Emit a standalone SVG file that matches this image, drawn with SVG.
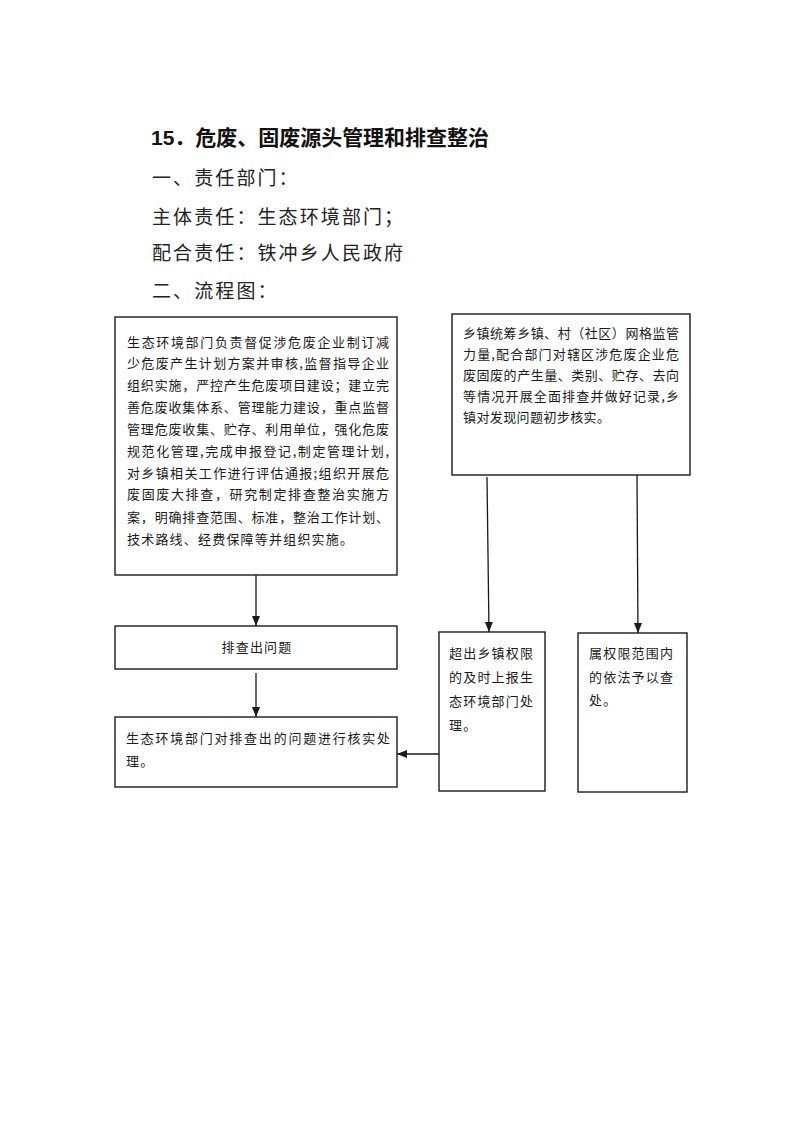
<svg xmlns="http://www.w3.org/2000/svg" width="793" height="1122" viewBox="0 0 793 1122">
<style>
.bg{fill:#ffffff}
.title{font-family:"Liberation Sans","Noto Sans CJK SC",sans-serif;font-size:21px;font-weight:bold;fill:#111}
.head{font-family:"Noto Sans CJK SC",sans-serif;font-size:19px;letter-spacing:2.1px;fill:#222}
.box{fill:#fff;stroke:#1a1a1a;stroke-width:1.4}
.t{font-family:"Noto Sans CJK SC",sans-serif;font-size:13px;fill:#1a1a1a}
.ls{letter-spacing:1.2px}
.edge{stroke:#1a1a1a;stroke-width:1.3;fill:none}
</style>
<defs>
<marker id="arr" markerUnits="userSpaceOnUse" markerWidth="10" markerHeight="10" viewBox="0 0 10 10" refX="10" refY="5" orient="auto">
<path d="M0,1 L10,5 L0,9 Z" fill="#1a1a1a"/>
</marker>
</defs>
<rect class="bg" x="0" y="0" width="793" height="1122"/>

<g id="header">
<text class="title" x="151" y="145" textLength="338" lengthAdjust="spacing">15．危废、固废源头管理和排查整治</text>
<text class="head" x="152" y="185">一、责任部门：</text>
<text class="head" x="152" y="224">主体责任：生态环境部门；</text>
<text class="head" x="152" y="260">配合责任：铁冲乡人民政府</text>
<text class="head" x="152" y="298">二、流程图：</text>
</g>

<g id="node-dept">
<rect class="box" x="115" y="317" width="282" height="258"/>
<text class="t" x="127" y="347" textLength="262" lengthAdjust="spacing">生态环境部门负责督促涉危废企业制订减</text>
<text class="t" x="127" y="368" textLength="262" lengthAdjust="spacing">少危废产生计划方案并审核,监督指导企业</text>
<text class="t" x="127" y="390" textLength="262" lengthAdjust="spacing">组织实施，严控产生危废项目建设；建立完</text>
<text class="t" x="127" y="412" textLength="262" lengthAdjust="spacing">善危废收集体系、管理能力建设，重点监督</text>
<text class="t" x="127" y="434" textLength="262" lengthAdjust="spacing">管理危废收集、贮存、利用单位，强化危废</text>
<text class="t" x="127" y="456" textLength="262" lengthAdjust="spacing">规范化管理,完成申报登记,制定管理计划,</text>
<text class="t" x="127" y="478" textLength="262" lengthAdjust="spacing">对乡镇相关工作进行评估通报;组织开展危</text>
<text class="t" x="127" y="499" textLength="262" lengthAdjust="spacing">废固废大排查，研究制定排查整治实施方</text>
<text class="t" x="127" y="522" textLength="262" lengthAdjust="spacing">案，明确排查范围、标准，整治工作计划、</text>
<text class="t ls" x="127" y="544">技术路线、经费保障等并组织实施。</text>
</g>

<g id="node-town">
<rect class="box" x="452" y="314" width="238" height="161"/>
<text class="t" x="463" y="338" textLength="216" lengthAdjust="spacing">乡镇统筹乡镇、村（社区）网格监管</text>
<text class="t" x="463" y="359" textLength="216" lengthAdjust="spacing">力量,配合部门对辖区涉危废企业危</text>
<text class="t" x="463" y="380" textLength="216" lengthAdjust="spacing">废固废的产生量、类别、贮存、去向</text>
<text class="t" x="463" y="401" textLength="216" lengthAdjust="spacing">等情况开展全面排查并做好记录,乡</text>
<text class="t" x="463" y="422" style="letter-spacing:0.4px">镇对发现问题初步核实。</text>
</g>

<g id="node-found">
<rect class="box" x="115" y="626" width="282" height="43"/>
<text class="t ls" x="257" y="652" text-anchor="middle">排查出问题</text>
</g>

<g id="node-verify">
<rect class="box" x="115" y="717" width="282" height="70"/>
<text class="t" x="126" y="743" textLength="264" lengthAdjust="spacing">生态环境部门对排查出的问题进行核实处</text>
<text class="t ls" x="126" y="766">理。</text>
</g>

<g id="node-report">
<rect class="box" x="439" y="632" width="106" height="159"/>
<text class="t ls" x="449" y="658">超出乡镇权限</text>
<text class="t ls" x="449" y="682">的及时上报生</text>
<text class="t ls" x="449" y="706">态环境部门处</text>
<text class="t ls" x="449" y="730">理。</text>
</g>

<g id="node-handle">
<rect class="box" x="578" y="633" width="109" height="159"/>
<text class="t ls" x="589" y="658">属权限范围内</text>
<text class="t ls" x="589" y="682">的依法予以查</text>
<text class="t ls" x="589" y="705">处。</text>
</g>

<g id="connectors">
<line class="edge" x1="256" y1="575" x2="256" y2="626" marker-end="url(#arr)"/>
<line class="edge" x1="256" y1="673" x2="256" y2="717" marker-end="url(#arr)"/>
<line class="edge" x1="487" y1="477" x2="489" y2="632" marker-end="url(#arr)"/>
<line class="edge" x1="637" y1="475" x2="638" y2="633" marker-end="url(#arr)"/>
<line class="edge" x1="439" y1="754" x2="397" y2="754" marker-end="url(#arr)"/>
</g>
</svg>
